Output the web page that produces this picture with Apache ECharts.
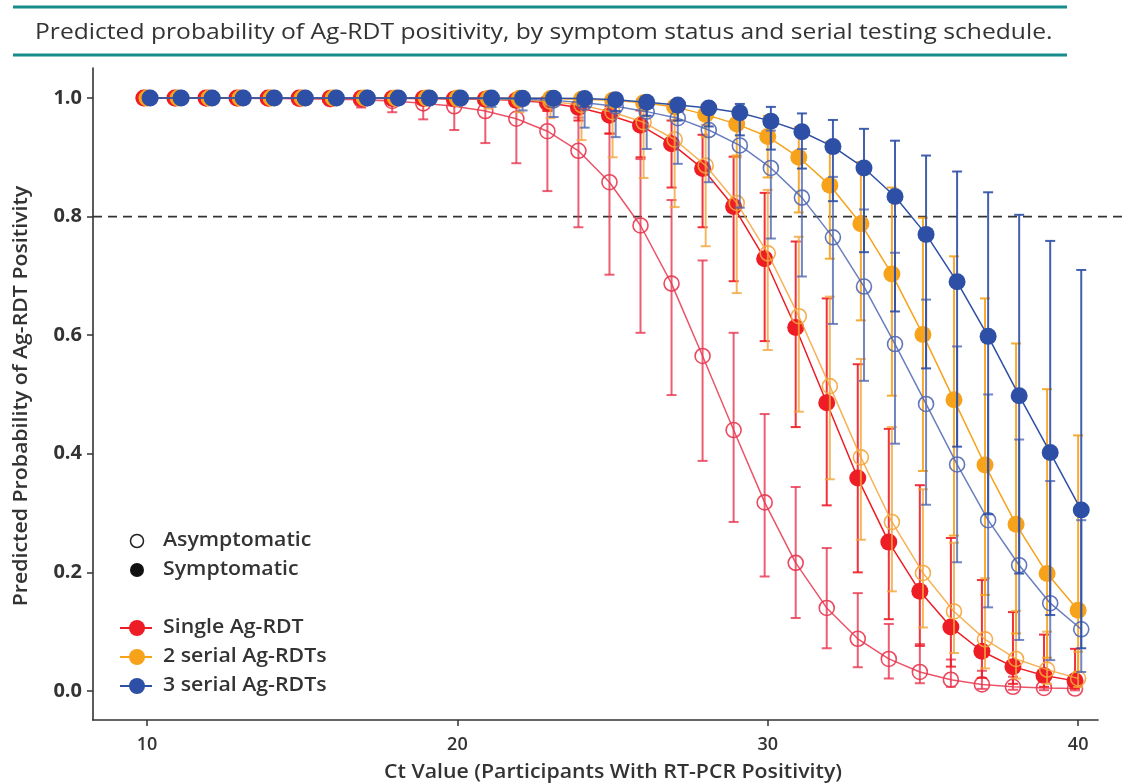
<!DOCTYPE html>
<html>
<head>
<meta charset="utf-8">
<script src="https://cdn.jsdelivr.net/npm/echarts@6/dist/echarts.min.js"></script>
<style>
  html, body { margin: 0; padding: 0; background: #ffffff; }
  #chart { width: 1123px; height: 784px; }
</style>
</head>
<body>
<div id="chart"></div>
<script>
// Ct values (cycle threshold) at which predictions were made
const ctValues = [10,11,12,13,14,15,16,17,18,19,20,21,22,23,24,25,26,27,28,29,30,31,32,33,34,35,36,37,38,39,40];

// Single Ag-RDT, asymptomatic
const asymSingle   = [0.9999,0.9998,0.9997,0.9996,0.9993,0.9988,0.998,0.997,0.995,0.991,0.986,0.978,0.965,0.944,0.911,0.858,0.785,0.687,0.565,0.44,0.318,0.216,0.14,0.088,0.054,0.032,0.019,0.011,0.007,0.005,0.004];
const asymSingleLo = [0.999,0.999,0.998,0.997,0.995,0.992,0.988,0.984,0.976,0.964,0.946,0.924,0.89,0.843,0.782,0.702,0.604,0.499,0.388,0.285,0.193,0.123,0.072,0.04,0.021,0.013,0.007,0.0035,0.002,0.0013,0.001];
const asymSingleHi = [1,1,1,1,1,0.9998,0.9996,0.9993,0.9988,0.998,0.9965,0.994,0.9895,0.981,0.967,0.94,0.897,0.828,0.726,0.604,0.467,0.344,0.241,0.165,0.113,0.079,0.053,0.034,0.024,0.019,0.017];

// Single Ag-RDT, symptomatic
const symSingle    = [1,1,1,0.9999,0.9999,0.9998,0.9997,0.9995,0.9993,0.999,0.9985,0.998,0.996,0.992,0.984,0.971,0.954,0.923,0.881,0.817,0.729,0.613,0.486,0.359,0.251,0.168,0.108,0.067,0.041,0.026,0.017];
const symSingleLo  = [0.9998,0.9997,0.9996,0.9994,0.9992,0.999,0.9985,0.998,0.997,0.995,0.993,0.99,0.986,0.978,0.962,0.94,0.9,0.849,0.782,0.691,0.59,0.445,0.313,0.2,0.121,0.076,0.041,0.022,0.012,0.007,0.004];
const symSingleHi  = [1,1,1,1,1,1,1,1,0.9999,0.9998,0.9997,0.9995,0.999,0.998,0.994,0.986,0.979,0.962,0.938,0.901,0.84,0.758,0.662,0.551,0.442,0.347,0.258,0.187,0.133,0.095,0.071];

// 2 serial Ag-RDTs, asymptomatic
const asymTwo      = [1,1,0.9999,0.9999,0.9999,0.9998,0.9998,0.9997,0.9996,0.9994,0.9992,0.9985,0.997,0.994,0.988,0.976,0.959,0.93,0.886,0.823,0.738,0.632,0.514,0.394,0.285,0.199,0.134,0.087,0.054,0.036,0.021];
const asymTwoLo    = [0.9995,0.9993,0.999,0.9987,0.998,0.9975,0.9965,0.995,0.993,0.99,0.987,0.982,0.976,0.966,0.929,0.9,0.865,0.816,0.75,0.671,0.575,0.471,0.357,0.255,0.168,0.107,0.064,0.038,0.021,0.012,0.0065];
const asymTwoHi    = [1,1,1,1,1,1,1,1,1,0.9999,0.9998,0.9997,0.9995,0.999,0.997,0.993,0.987,0.976,0.955,0.9,0.845,0.766,0.665,0.56,0.445,0.34,0.25,0.19,0.135,0.1,0.066];

// 2 serial Ag-RDTs, symptomatic
const symTwo       = [1,1,1,1,1,1,1,1,0.9999,0.9999,0.9998,0.9997,0.9995,0.999,0.998,0.996,0.992,0.985,0.972,0.956,0.935,0.9,0.853,0.788,0.703,0.601,0.491,0.381,0.281,0.198,0.136];
const symTwoLo     = [0.9999,0.9999,0.9998,0.9998,0.9997,0.9996,0.9994,0.9992,0.999,0.9985,0.998,0.997,0.995,0.993,0.991,0.987,0.979,0.962,0.934,0.903,0.866,0.807,0.729,0.625,0.498,0.371,0.262,0.162,0.097,0.056,0.032];
const symTwoHi     = [1,1,1,1,1,1,1,1,1,1,1,1,1,1,1,0.9995,0.998,0.995,0.989,0.98,0.97,0.951,0.926,0.892,0.849,0.798,0.733,0.662,0.586,0.509,0.431];

// 3 serial Ag-RDTs, asymptomatic
const asymThree    = [1,1,1,1,1,0.9999,0.9999,0.9998,0.9997,0.9995,0.9992,0.9988,0.998,0.996,0.992,0.986,0.977,0.966,0.946,0.92,0.882,0.832,0.765,0.682,0.585,0.484,0.382,0.288,0.212,0.148,0.104];
const asymThreeLo  = [0.9995,0.9993,0.999,0.9987,0.998,0.9975,0.997,0.996,0.994,0.992,0.989,0.985,0.979,0.968,0.95,0.934,0.914,0.889,0.858,0.815,0.763,0.699,0.619,0.523,0.417,0.314,0.217,0.141,0.086,0.052,0.032];
const asymThreeHi  = [1,1,1,1,1,1,1,1,1,1,1,1,1,0.9995,0.998,0.996,0.993,0.988,0.98,0.968,0.945,0.914,0.867,0.812,0.739,0.66,0.581,0.5,0.424,0.354,0.288];

// 3 serial Ag-RDTs, symptomatic
const symThree     = [1,1,1,1,1,1,1,1,1,1,0.9999,0.9998,0.9997,0.9994,0.999,0.997,0.993,0.988,0.983,0.975,0.961,0.943,0.918,0.882,0.834,0.77,0.69,0.598,0.498,0.402,0.305];
const symThreeLo   = [0.9998,0.9998,0.9997,0.9997,0.9996,0.9995,0.9993,0.999,0.9987,0.998,0.997,0.996,0.994,0.99,0.985,0.978,0.97,0.962,0.952,0.937,0.913,0.881,0.826,0.74,0.64,0.544,0.412,0.298,0.198,0.128,0.072];
const symThreeHi   = [1,1,1,1,1,1,1,1,1,1,1,1,1,1,1,0.999,0.998,0.996,0.993,0.99,0.985,0.974,0.963,0.948,0.928,0.903,0.876,0.841,0.803,0.759,0.71];

// Axis ticks and reference threshold
const xTicks = [10, 20, 30, 40];
const yTicks = [0, 0.2, 0.4, 0.6, 0.8, 1.0];
const threshold = 0.8;

const titleText = 'Predicted probability of Ag-RDT positivity, by symptom status and serial testing schedule.';
const xTitle = 'Ct Value (Participants With RT-PCR Positivity)';
const yTitle = 'Predicted Probability of Ag-RDT Positivity';
const legendStatus = ['Asymptomatic', 'Symptomatic'];
const legendSchedule = ['Single Ag-RDT', '2 serial Ag-RDTs', '3 serial Ag-RDTs'];

// Styling per testing schedule
const RED = '#ee1c25', RED_OPEN = '#e8364f';
const ORANGE = '#f7a21b', ORANGE_OPEN = '#f4a53c';
const BLUE = '#2d4fa6', BLUE_OPEN = '#5068b3';
const FONT = '"Open Sans", "Noto Sans", sans-serif';
const TEXT = '#333333';
const WIDEN = 1.12;   // horizontal stretch for the wide caption typeface

const groups = [
  { dx: -0.1, open: [asymSingle, asymSingleLo, asymSingleHi], filled: [symSingle, symSingleLo, symSingleHi], c: RED, co: RED_OPEN, z: 10 },
  { dx: 0.0,  open: [asymTwo, asymTwoLo, asymTwoHi],          filled: [symTwo, symTwoLo, symTwoHi],          c: ORANGE, co: ORANGE_OPEN, z: 20 },
  { dx: 0.1,  open: [asymThree, asymThreeLo, asymThreeHi],    filled: [symThree, symThreeLo, symThreeHi],    c: BLUE, co: BLUE_OPEN, z: 30 }
];

function errorBars(lo, hi, dx, color, opacity, z) {
  return {
    type: 'custom',
    z: z,
    silent: true,
    animation: false,
    clip: false,
    data: ctValues.map((c, i) => [c + dx, lo[i], hi[i]]),
    encode: { x: 0, y: [1, 2] },
    renderItem: function (params, api) {
      const x = api.value(0);
      const top = api.coord([x, api.value(2)]);
      const bot = api.coord([x, api.value(1)]);
      const hw = 5;
      const st = { stroke: color, lineWidth: 2, opacity: opacity };
      return {
        type: 'group',
        children: [
          { type: 'line', shape: { x1: top[0], y1: top[1], x2: bot[0], y2: bot[1] }, style: st },
          { type: 'line', shape: { x1: top[0] - hw, y1: top[1], x2: top[0] + hw, y2: top[1] }, style: st },
          { type: 'line', shape: { x1: bot[0] - hw, y1: bot[1], x2: bot[0] + hw, y2: bot[1] }, style: st }
        ]
      };
    }
  };
}

function curve(values, dx, color, open, z) {
  return {
    type: 'line',
    z: z,
    silent: true,
    animation: false,
    data: ctValues.map((c, i) => [c + dx, values[i]]),
    symbol: 'circle',
    symbolSize: open ? 15 : 17,
    showAllSymbol: true,
    lineStyle: { color: color, width: 1.5, opacity: open ? 0.85 : 1 },
    itemStyle: open
      ? { color: 'rgba(255,255,255,0)', borderColor: color, borderWidth: 1.6, opacity: 0.9 }
      : { color: color, borderWidth: 0 }
  };
}

const series = [];
groups.forEach(g => {
  series.push(errorBars(g.open[1], g.open[2], g.dx, g.co, 0.8, g.z));
  series.push(curve(g.open[0], g.dx, g.co, true, g.z + 1));
  series.push(errorBars(g.filled[1], g.filled[2], g.dx, g.c, 0.9, g.z + 2));
  series.push(curve(g.filled[0], g.dx, g.c, false, g.z + 3));
});

function wideText(x, y, text, font, extra) {
  return Object.assign({
    type: 'text', x: x, y: y, scaleX: WIDEN,
    style: { text: text, fill: TEXT, font: font, verticalAlign: 'middle' }
  }, extra || {});
}

// legend drawn as graphic marks inside the plot
const legendX = 137, textX = 163;
const legendFont = '600 19px ' + FONT;
const legendGraphics = [
  { type: 'circle', shape: { cx: legendX, cy: 541, r: 6.5 }, style: { fill: '#fff', stroke: '#222', lineWidth: 1.5 } },
  { type: 'circle', shape: { cx: legendX, cy: 570, r: 7 }, style: { fill: '#111' } },
  wideText(textX, 541, legendStatus[0], legendFont),
  wideText(textX, 570, legendStatus[1], legendFont)
];
[RED, ORANGE, BLUE].forEach((c, i) => {
  const y = 628 + i * 29;
  legendGraphics.push({ type: 'line', shape: { x1: 120, y1: y, x2: 152, y2: y }, style: { stroke: c, lineWidth: 2 } });
  legendGraphics.push({ type: 'circle', shape: { cx: legendX, cy: y, r: 8 }, style: { fill: c } });
  legendGraphics.push(wideText(textX, y, legendSchedule[i], legendFont));
});

const chart = echarts.init(document.getElementById('chart'), null, { renderer: 'canvas' });
chart.setOption({
  backgroundColor: '#ffffff',
  animation: false,
  grid: { left: 93, right: 25, top: 68, bottom: 64, containLabel: false },
  xAxis: {
    type: 'value',
    min: 8.26,
    max: 40.64,
    splitLine: { show: false },
    axisLine: { show: true, onZero: false, lineStyle: { color: '#333', width: 1.6 } },
    axisTick: { show: true, customValues: xTicks, length: 6, lineStyle: { color: '#333', width: 1.5 } },
    axisLabel: { customValues: xTicks, color: TEXT, fontFamily: FONT, fontSize: 18, fontWeight: 600, margin: 16 }
  },
  yAxis: {
    type: 'value',
    min: -0.049,
    max: 1.0506,
    splitLine: { show: false },
    axisLine: { show: true, onZero: false, lineStyle: { color: '#333', width: 1.6 } },
    axisTick: { show: true, customValues: yTicks, length: 6, lineStyle: { color: '#333', width: 1.5 } },
    axisLabel: { customValues: yTicks, color: TEXT, fontFamily: FONT, fontSize: 20, fontWeight: 'bold', margin: 11,
      formatter: v => v.toFixed(1) }
  },
  graphic: [
    { type: 'line', shape: { x1: 13, y1: 7, x2: 1067, y2: 7 }, style: { stroke: '#178c8c', lineWidth: 3 } },
    { type: 'line', shape: { x1: 13, y1: 55, x2: 1067, y2: 55 }, style: { stroke: '#178c8c', lineWidth: 3 } },
    wideText(35, 33, titleText, '22px ' + FONT),
    wideText(613, 773, xTitle, '600 19px ' + FONT, { style: { text: xTitle, fill: TEXT, font: '600 19px ' + FONT, align: 'center', verticalAlign: 'middle' } }),
    wideText(22, 396, yTitle, '600 19px ' + FONT, { rotation: Math.PI / 2, style: { text: yTitle, fill: TEXT, font: '600 19px ' + FONT, align: 'center', verticalAlign: 'middle' } })
  ].concat(legendGraphics),
  series: series
});

// dashed 80% reference line, placed through the y scale and running to the right edge
const yRef = chart.convertToPixel({ yAxisIndex: 0 }, threshold);
chart.setOption({
  graphic: [{
    id: 'threshold', type: 'line', z: 5, silent: true,
    shape: { x1: 93, y1: yRef, x2: 1123, y2: yRef },
    style: { stroke: '#333', lineWidth: 1.6, lineDash: [9, 6] }
  }]
});
</script>
</body>
</html>
